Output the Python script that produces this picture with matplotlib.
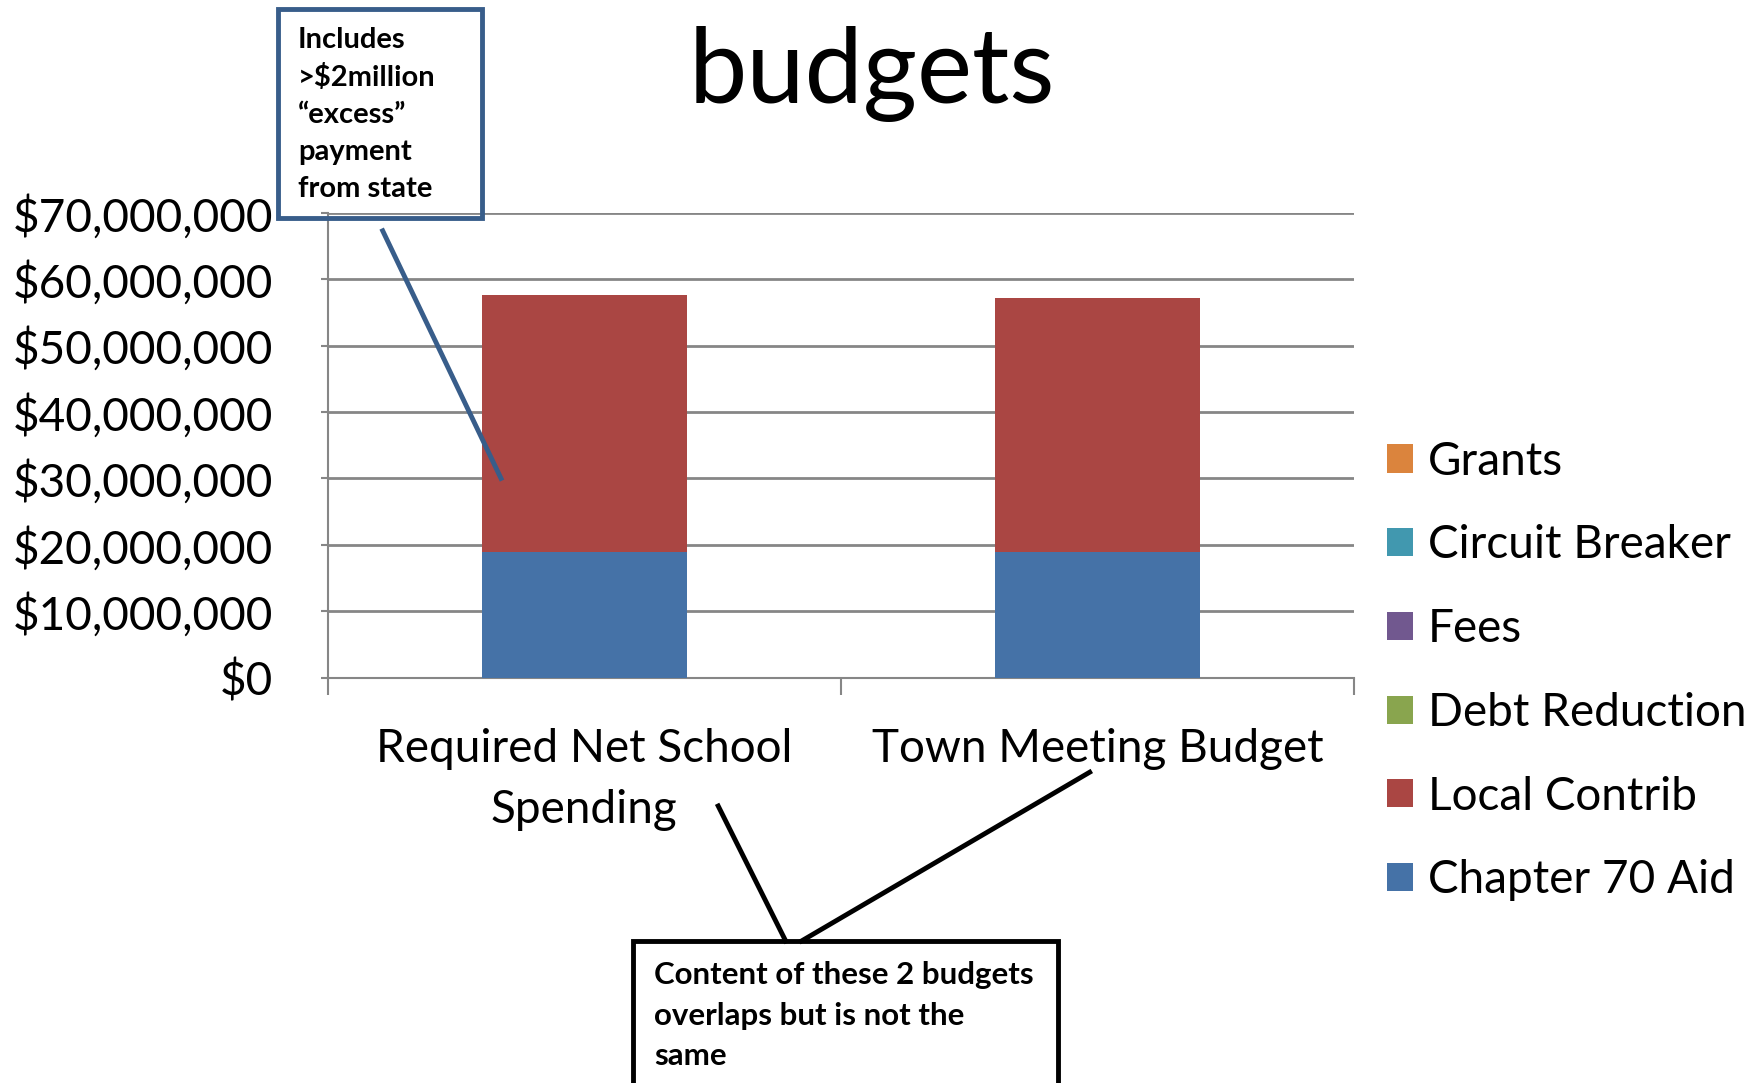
import matplotlib.pyplot as plt
import numpy as np
from matplotlib.patches import Patch, Rectangle
from matplotlib.lines import Line2D
from matplotlib.ticker import FuncFormatter

plt.rcParams['font.family'] = ['Lato', 'DejaVu Sans']

# data
categories = ["Required Net School\nSpending", "Town Meeting Budget"]
series = ["Chapter 70 Aid", "Local Contrib", "Debt Reduction", "Fees",
          "Circuit Breaker", "Grants"]
chapter70 = [18.9e6, 18.9e6]
local_contrib = [38.7e6, 38.2e6]
debt_reduction = [0, 0]
fees = [0, 0]
circuit_breaker = [0, 0]
grants = [0, 0]
values = [chapter70, local_contrib, debt_reduction, fees, circuit_breaker, grants]
colors = ['#4572A7', '#AA4643', '#89A54E', '#71588F', '#4198AF', '#DB843D']

W, H = 1765, 1083
fig = plt.figure(figsize=(W / 100, H / 100), dpi=100)


def fx(px):
    return px / W


def fy(py):
    return 1 - py / H


ax = fig.add_axes([fx(327.6), fy(677.7), fx(1354.2) - fx(327.6), fy(212.8) - fy(677.7)])

x = np.arange(len(categories))
bottom = np.zeros(len(categories))
for name, vals, col in zip(series, values, colors):
    ax.bar(x, vals, 0.4, bottom=bottom, color=col, linewidth=0, zorder=3)
    bottom += np.array(vals)

ax.set_xlim(-0.5, 1.5)
ax.set_ylim(0, 70e6)
ax.set_yticks(np.arange(0, 70e6 + 1, 10e6))
ax.yaxis.set_major_formatter(FuncFormatter(lambda v, p: '${:,.0f}'.format(v)))
ax.grid(axis='y', color='#868686', linewidth=2, zorder=0)
ax.set_xticks(x)
ax.set_xticklabels(categories, fontsize=33, linespacing=1.58)
ax.set_xticks([-0.5, 0.5, 1.5], minor=True)
ax.tick_params(axis='x', which='major', length=0, pad=36)
ax.tick_params(axis='x', which='minor', length=12, width=1.5, color='#868686')
ax.tick_params(axis='y', length=5, width=1.5, color='#868686', labelsize=33, pad=34)
for s in ['top', 'right']:
    ax.spines[s].set_visible(False)
for s in ['left', 'bottom']:
    ax.spines[s].set_color('#868686')
    ax.spines[s].set_linewidth(1.5)

# legend
handles = [Patch(facecolor=c, edgecolor='none') for c in colors][::-1]
labels = series[::-1]
fig.legend(handles, labels, loc='center left', bbox_to_anchor=(fx(1387), fy(671)),
           frameon=False, fontsize=33, handlelength=0.57, handleheight=0.57,
           handletextpad=0.32, labelspacing=0.91, borderpad=0, borderaxespad=0)

# title
fig.text(fx(872), fy(74), 'budgets', fontsize=75, ha='center', va='center')

# callout 1
blue = '#385D8A'
fig.add_artist(Rectangle((fx(278), fy(218.4)), fx(481.8) - fx(278), fy(9) - fy(218.4),
                         transform=fig.transFigure, fill=False, edgecolor=blue, linewidth=3.5))
box1 = ["Includes", ">$2million", "\u201cexcess\u201d", "payment", "from state"]
for i, line in enumerate(box1):
    fig.text(fx(298), fy(40.5 + i * 37.1), line, fontsize=21, fontweight='bold',
             ha='left', va='center')
fig.add_artist(Line2D([fx(382.7), fx(501)], [fy(230.8), fy(478.4)],
                      transform=fig.transFigure, color=blue, linewidth=3.5))

# callout 2
fig.add_artist(Rectangle((fx(632.6), fy(1100)), fx(1058.2) - fx(632.6), fy(941) - fy(1100),
                         transform=fig.transFigure, fill=False, edgecolor='black', linewidth=3.5))
box2 = ["Content of these 2 budgets", "overlaps but is not the", "same"]
for i, line in enumerate(box2):
    fig.text(fx(654), fy(975 + i * 40.5), line, fontsize=22.5, fontweight='bold',
             ha='left', va='center')
fig.add_artist(Line2D([fx(718.2), fx(785.7)], [fy(806), fy(941)],
                      transform=fig.transFigure, color='black', linewidth=3.5))
fig.add_artist(Line2D([fx(1089.7), fx(801.5)], [fy(772.2), fy(941)],
                      transform=fig.transFigure, color='black', linewidth=3.5))

fig.savefig('out.png', dpi=100)
